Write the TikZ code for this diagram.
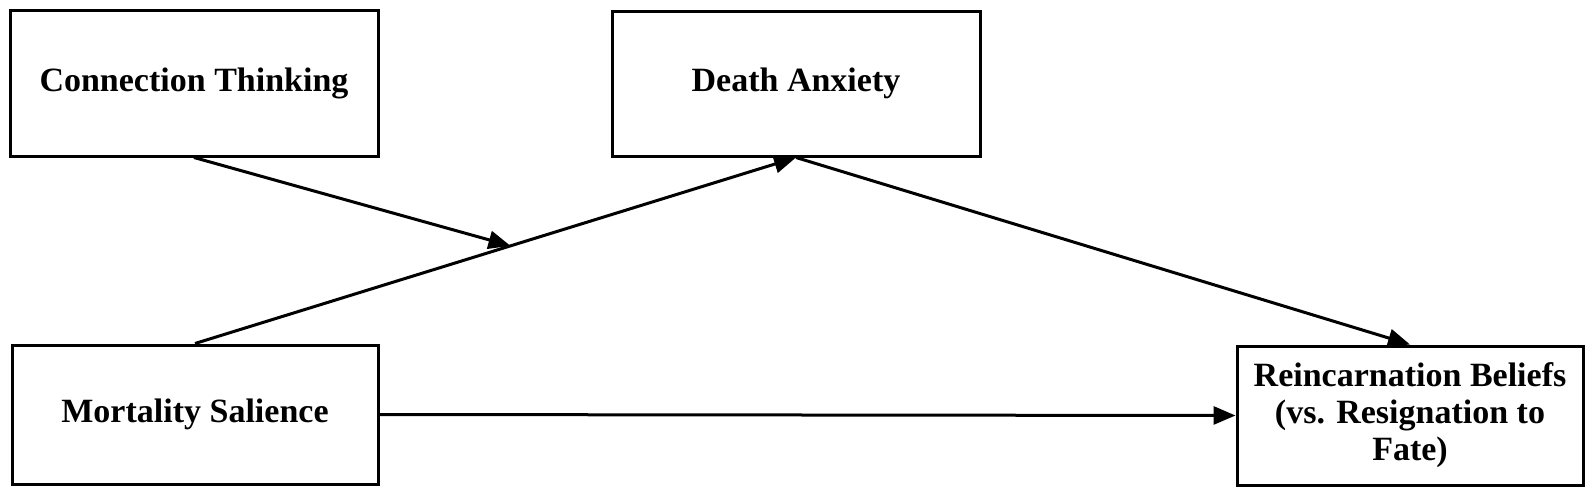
\documentclass[tikz,border=0pt]{standalone}
\usepackage{fontspec}
\setmainfont{Liberation Serif}
\usetikzlibrary{arrows.meta}
\begin{document}
\begin{tikzpicture}[x=0.5pt,y=-0.5pt,
  box/.style={draw, line width=1.5pt, rectangle, align=center,
    font=\bfseries\fontsize{17}{18.5}\selectfont, inner sep=0pt},
  conn/.style={line width=1.5pt, -{Triangle[length=11pt,width=9pt]}}]
\useasboundingbox (0,0) rectangle (1594,498);
\node[box, minimum width=184pt, minimum height=73pt] (ct) at (194,83) {Connection Thinking};
\node[box, minimum width=184pt, minimum height=72.5pt] (da) at (796,83.5) {Death Anxiety};
\node[box, minimum width=183pt, minimum height=69.5pt] (ms) at (195,414.5) {Mortality Salience};
\node[box, minimum width=173pt, minimum height=69.5pt] (rb) at (1410,415.5) {Reincarnation Beliefs\\(vs. Resignation to\\Fate)};
\path (ms.north) -- (da.south) coordinate[pos=0.525] (mid);
\draw[conn] (ct.south) -- (mid);
\draw[conn] (ms.north) -- (da.south);
\draw[conn] (da.south) -- (rb.north);
\draw[conn] (ms.east) -- (rb.west);
\end{tikzpicture}
\end{document}
